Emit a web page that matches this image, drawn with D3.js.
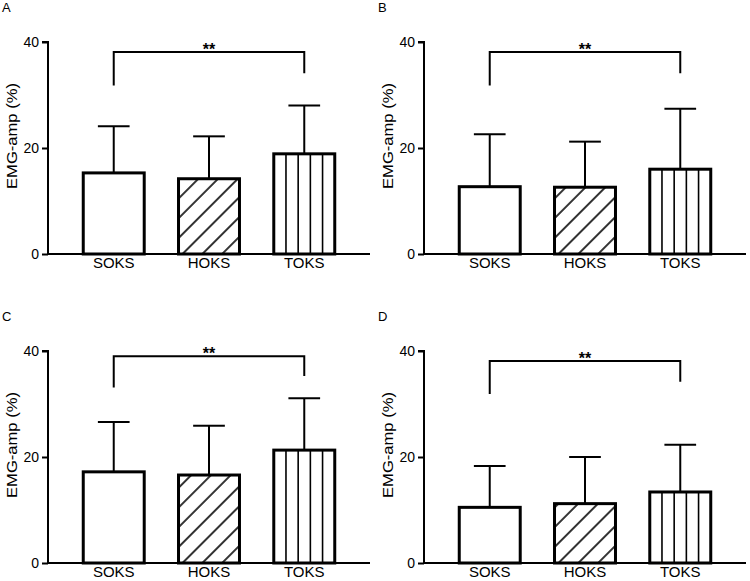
<!DOCTYPE html>
<html>
<head>
<meta charset="utf-8">
<script src="https://cdn.jsdelivr.net/npm/d3@7"></script>
<style>
	body { margin: 0; background: #fff; }
	text { font-family: "Liberation Sans", Arial, sans-serif; }
</style>
</head>
<body>
<div id="chart"></div>
<script>
const groups = ["SOKS", "HOKS", "TOKS"];
const panelLabels = ["A", "B", "C", "D"];
const yTicks = [0, 20, 40];

// mean and SD per panel
const meansA = [15.3, 14.2, 18.9];
const sdA = [8.8, 8.0, 9.1];
const meansB = [12.7, 12.6, 16.0];
const sdB = [9.9, 8.6, 11.4];
const meansC = [17.2, 16.6, 21.3];
const sdC = [9.4, 9.3, 9.8];
const meansD = [10.5, 11.2, 13.4];
const sdD = [7.8, 8.8, 8.9];

// significance bracket: [top, left leg end, right leg end]
const bracketA = [38.1, 31.8, 34.1];
const bracketB = [38.1, 31.8, 34.1];
const bracketC = [39.0, 33.1, 35.3];
const bracketD = [38.1, 31.9, 34.2];

const panels = [
	{label: panelLabels[0], means: meansA, sd: sdA, bracket: bracketA, ox: 0, oy: 0},
	{label: panelLabels[1], means: meansB, sd: sdB, bracket: bracketB, ox: 376, oy: 0},
	{label: panelLabels[2], means: meansC, sd: sdC, bracket: bracketC, ox: 0, oy: 309},
	{label: panelLabels[3], means: meansD, sd: sdD, bracket: bracketD, ox: 376, oy: 309}
];

const margin = {top: 42, left: 48};
const width = 322;
const height = 212;

const svg = d3.select("#chart")
	.append("svg")
		.attr("width", 750)
		.attr("height", 581);

// hatch for HOKS
const defs = svg.append("defs");
defs.append("pattern")
		.attr("id", "diag")
		.attr("patternUnits", "userSpaceOnUse")
		.attr("width", 14)
		.attr("height", 14)
		.attr("patternTransform", "rotate(45)")
	.append("line")
		.attr("x1", 7).attr("x2", 7)
		.attr("y1", 0).attr("y2", 14)
		.attr("stroke", "#000")
		.attr("stroke-width", 1.6);

const x = d3.scaleBand()
	.domain(groups)
	.range([0, width])
	.paddingInner(0.36)
	.paddingOuter(0.37);

const y = d3.scaleLinear()
	.domain([0, 40])
	.range([height, 0]);

panels.forEach(p => {
	const root = svg.append("g")
		.attr("transform", `translate(${p.ox},${p.oy})`);

	root.append("text")
		.attr("x", 2)
		.attr("y", 12)
		.attr("font-size", 13)
		.text(p.label);

	const g = root.append("g")
		.attr("transform", `translate(${margin.left},${margin.top})`);

	// y axis
	const yAxis = g.append("g")
		.call(d3.axisLeft(y).tickValues(yTicks).tickSize(6).tickPadding(3));
	yAxis.select(".domain").attr("stroke-width", 2).attr("d", `M-6,0H0V${height}`);
	yAxis.selectAll(".tick line").attr("stroke-width", 2);
	yAxis.selectAll(".tick text")
		.attr("font-size", 14)
		.attr("font-family", "Liberation Sans, Arial, sans-serif")
		.attr("fill", "#000");

	g.append("text")
		.attr("transform", `translate(-31,94) rotate(-90)`)
		.attr("text-anchor", "middle")
		.attr("font-size", 14)
		.attr("textLength", 106)
		.attr("lengthAdjust", "spacingAndGlyphs")
		.text("EMG-amp (%)");

	const bw = x.bandwidth();

	// error bars (upper only)
	groups.forEach((c, i) => {
		const cx = x(c) + bw / 2;
		g.append("line")
			.attr("x1", cx).attr("x2", cx)
			.attr("y1", y(p.means[i])).attr("y2", y(p.means[i] + p.sd[i]))
			.attr("stroke", "#000").attr("stroke-width", 2);
		g.append("line")
			.attr("x1", cx - bw * 0.26).attr("x2", cx + bw * 0.26)
			.attr("y1", y(p.means[i] + p.sd[i])).attr("y2", y(p.means[i] + p.sd[i]))
			.attr("stroke", "#000").attr("stroke-width", 2);
	});

	// bars
	g.selectAll("rect.bar")
		.data(groups)
		.join("rect")
			.attr("class", "bar")
			.attr("x", d => x(d))
			.attr("y", (d, i) => y(p.means[i]))
			.attr("width", bw)
			.attr("height", (d, i) => y(0) - y(p.means[i]))
			.attr("fill", d => d === "HOKS" ? "url(#diag)" : "#fff")
			.attr("stroke", "#000")
			.attr("stroke-width", 3);

	// vertical stripes in TOKS
	const tIdx = groups.indexOf("TOKS");
	g.selectAll("line.stripe")
		.data([1, 2, 3, 4])
		.join("line")
			.attr("class", "stripe")
			.attr("x1", k => x("TOKS") + k * bw / 5)
			.attr("x2", k => x("TOKS") + k * bw / 5)
			.attr("y1", y(p.means[tIdx]))
			.attr("y2", y(0))
			.attr("stroke", "#000")
			.attr("stroke-width", 1.6);

	// x axis
	g.append("line")
		.attr("x1", 0).attr("x2", width)
		.attr("y1", y(0)).attr("y2", y(0))
		.attr("stroke", "#000").attr("stroke-width", 2);

	g.selectAll("text.cat")
		.data(groups)
		.join("text")
			.attr("class", "cat")
			.attr("x", d => x(d) + bw / 2)
			.attr("y", y(0) + 14)
			.attr("text-anchor", "middle")
			.attr("font-size", 15)
			.text(d => d);

	// significance bracket SOKS vs TOKS
	const lx = x("SOKS") + bw / 2;
	const rx = x("TOKS") + bw / 2;
	g.append("path")
		.attr("d", `M${lx},${y(p.bracket[1])}V${y(p.bracket[0])}H${rx}V${y(p.bracket[2])}`)
		.attr("fill", "none")
		.attr("stroke", "#000")
		.attr("stroke-width", 2);
	g.append("text")
		.attr("x", (lx + rx) / 2)
		.attr("y", y(p.bracket[0]) + 3)
		.attr("text-anchor", "middle")
		.attr("font-size", 16)
		.attr("font-weight", "bold")
		.text("**");
});
</script>
</body>
</html>
